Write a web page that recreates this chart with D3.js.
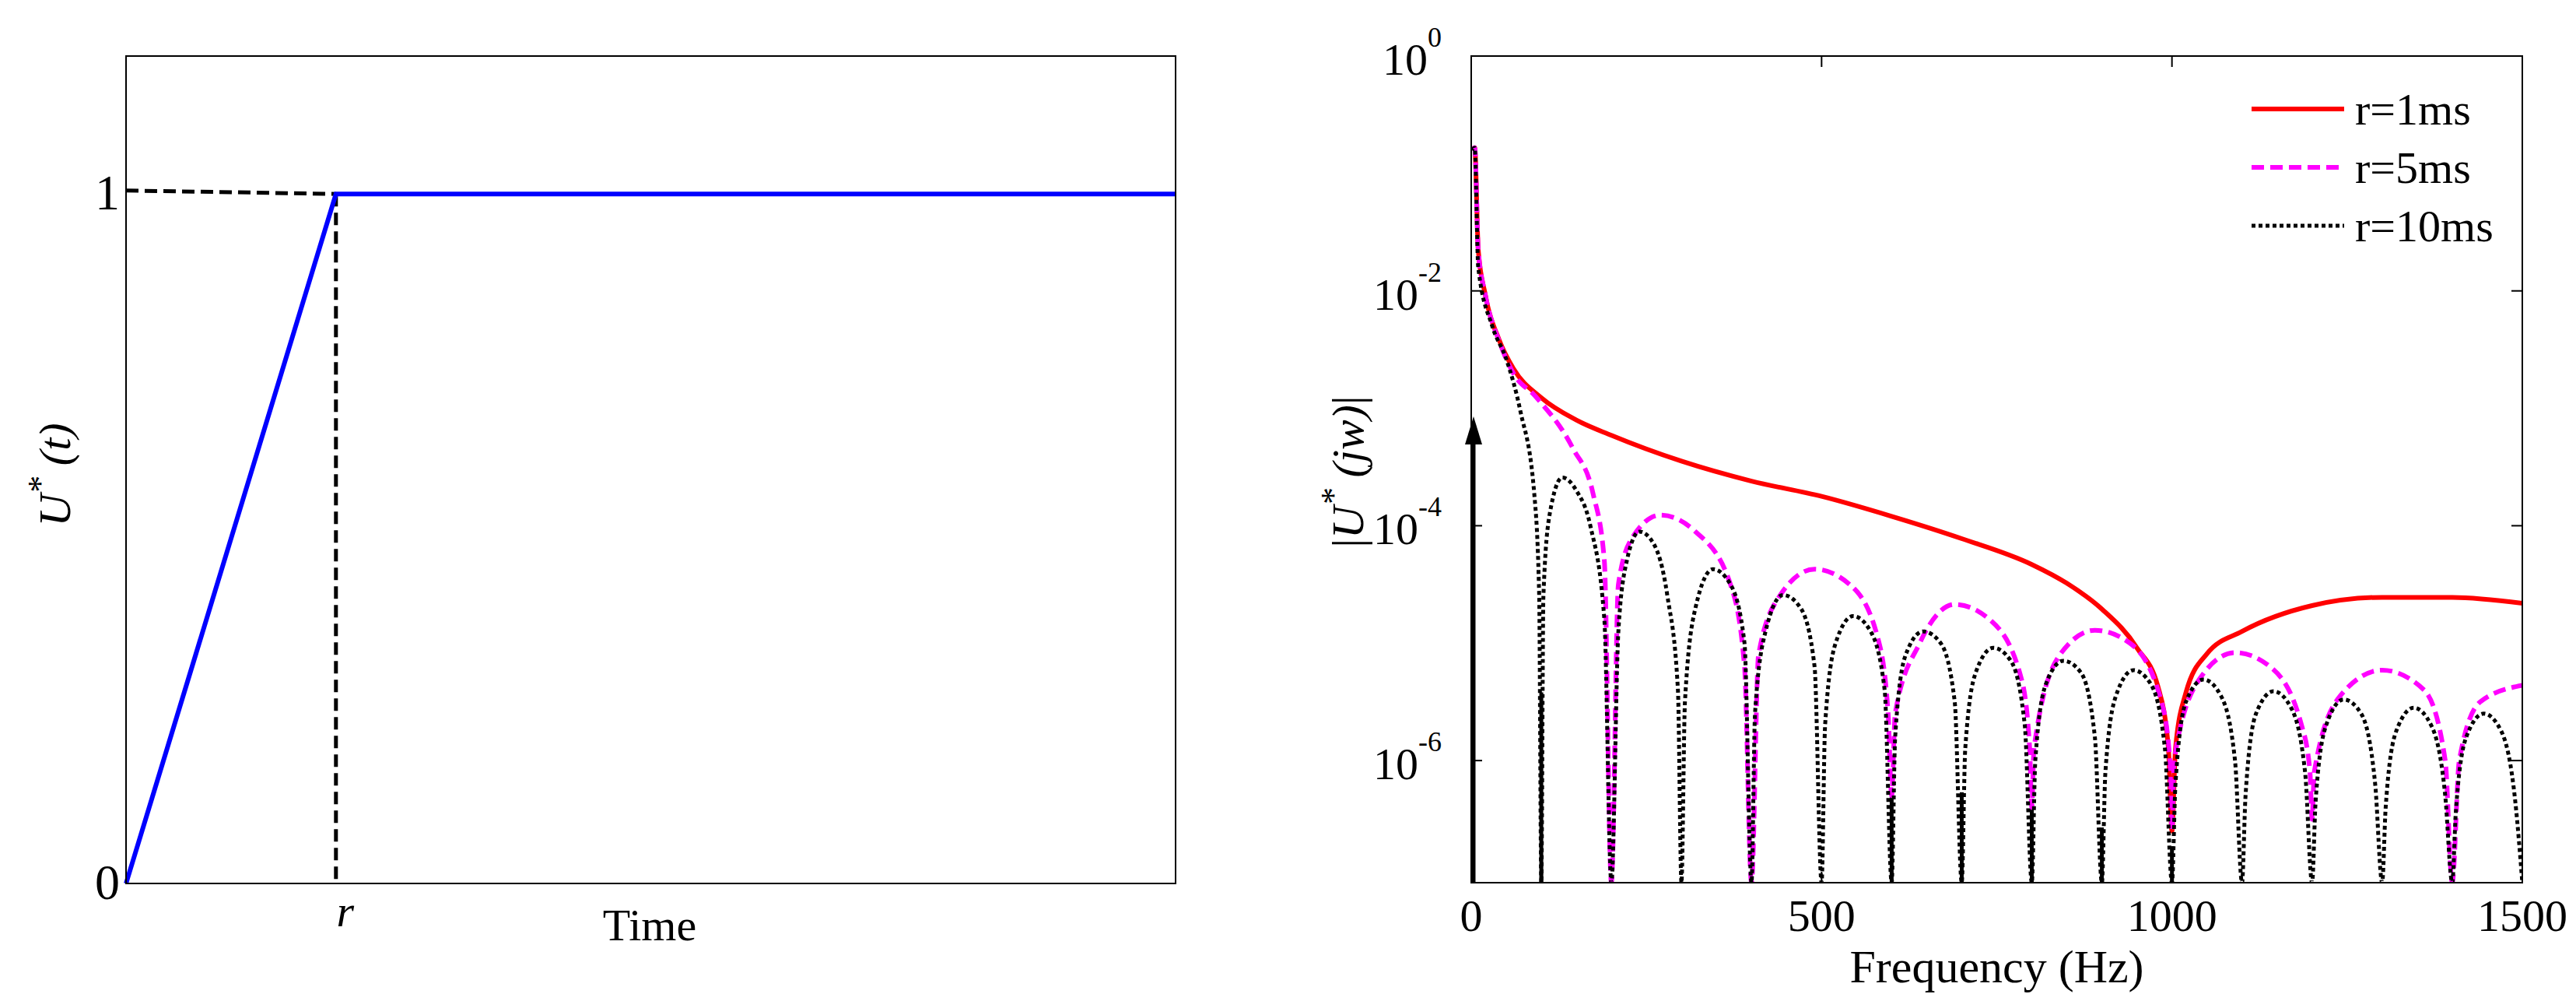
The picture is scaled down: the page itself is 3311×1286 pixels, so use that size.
<!DOCTYPE html>
<html><head><meta charset="utf-8">
<script src="https://cdn.jsdelivr.net/npm/d3@7"></script>
<style>body{margin:0;background:#fff}text{font-family:"Liberation Serif","Times New Roman",serif}</style>
</head><body><div id="chart"></div>
<script>
// left panel: ramp input
const rampT = [0, 0.2, 1];
const rampU = [0, 1, 1];
const rVal = 0.2;

// right panel: log10 |U*(jw)|
const redF = [1, 5, 10, 20, 40, 60, 100, 150, 200, 300, 400, 500, 600, 700, 800, 850, 900, 950, 980, 995, 1000, 1005, 1020, 1050, 1100, 1200, 1300, 1400, 1500];
const redE = [-0.8, -0.78, -1.65, -2.03, -2.42, -2.66, -2.91, -3.10, -3.23, -3.45, -3.62, -3.75, -3.92, -4.11, -4.33, -4.49, -4.71, -5.04, -5.37, -5.9, -6.6, -5.9, -5.42, -5.09, -4.90, -4.68, -4.61, -4.61, -4.66];

const magF = [1, 5, 10, 20, 40, 60, 92, 145, 174, 190, 200, 210, 230, 270, 320, 370, 390, 400, 410, 440, 490, 540, 580, 595, 600, 605, 640, 690, 740, 785, 797, 800, 803, 840, 890, 940, 985, 997, 1000, 1003, 1040, 1090, 1140, 1185, 1197, 1200, 1203, 1240, 1300, 1360, 1390, 1400, 1410, 1440, 1500];
const magE = [-0.8, -0.78, -1.65, -2.03, -2.43, -2.70, -2.90, -3.34, -3.73, -4.3, -7.05, -4.5, -4.1, -3.91, -4.05, -4.5, -5.2, -7.05, -5.1, -4.6, -4.37, -4.5, -4.95, -5.6, -6.3, -5.6, -5.0, -4.67, -4.8, -5.3, -5.9, -6.4, -5.9, -5.1, -4.89, -5.0, -5.5, -6.0, -6.6, -6.0, -5.3, -5.08, -5.2, -5.7, -6.1, -6.5, -6.1, -5.45, -5.23, -5.4, -6.0, -7.05, -6.0, -5.5, -5.36];

const blkF = [1, 5, 10, 30, 50, 70, 90, 97, 100, 103, 112, 130, 150, 170, 190, 200, 210, 222, 240, 260, 280, 295, 300, 305, 320, 345, 370, 390, 400, 405, 420, 445, 470, 490, 500, 505, 520, 545, 570, 590, 600, 605, 620, 645, 670, 690, 700, 705, 720, 745, 770, 790, 800, 805, 820, 845, 870, 890, 900, 905, 920, 945, 970, 990, 1000, 1005, 1020, 1045, 1070, 1090, 1100, 1105, 1120, 1145, 1170, 1190, 1200, 1205, 1220, 1245, 1270, 1290, 1300, 1305, 1320, 1345, 1370, 1390, 1400, 1405, 1420, 1445, 1470, 1490, 1500];
const blkE = [-0.8, -0.78, -1.8, -2.3, -2.58, -3.02, -3.73, -4.6, -7.05, -4.6, -3.9, -3.59, -3.7, -4.0, -4.8, -7.05, -4.9, -4.3, -4.05, -4.15, -4.6, -5.4, -7.05, -5.5, -4.7, -4.37, -4.5, -5.0, -7.05, -5.6, -4.9, -4.59, -4.7, -5.2, -7.05, -5.7, -5.0, -4.77, -4.9, -5.4, -7.05, -5.8, -5.1, -4.90, -5.0, -5.5, -7.05, -5.9, -5.25, -5.04, -5.15, -5.7, -7.05, -6.0, -5.35, -5.15, -5.25, -5.8, -7.05, -6.1, -5.45, -5.23, -5.35, -5.9, -7.05, -6.2, -5.5, -5.31, -5.45, -6.0, -7.05, -6.3, -5.6, -5.41, -5.55, -6.1, -7.05, -6.35, -5.7, -5.48, -5.6, -6.2, -7.05, -6.4, -5.75, -5.55, -5.7, -6.3, -7.05, -6.45, -5.8, -5.60, -5.75, -6.35, -7.05];

// solid spikes at the nulls (top exponent)
const spikeF = [100, 600, 700, 800, 900, 1000];
const spikeE = [-5.42, -6.24, -6.27, -6.35, -6.57, -6.73];
const arrowTopE = -3.07;

const freqTicks = [0, 500, 1000, 1500];
const decadeTicks = [0, -2, -4, -6];
const legendLabels = ["r=1ms", "r=5ms", "r=10ms"];

const W = 3311, H = 1286;
const svg = d3.select("#chart").append("svg").attr("width", W).attr("height", H);
const fs = 58;

// ---------- left panel ----------
const L = {l: 162, r: 1511, t: 72, b: 1135};
const xL = d3.scaleLinear().domain([0, 1]).range([L.l, L.r]);
const yL = d3.scaleLinear().domain([0, 1.2]).range([L.b, L.t]);
const gl = svg.append("g");

gl.append("line").attr("x1", xL(0)).attr("x2", xL(rVal)).attr("y1", yL(1.005)).attr("y2", yL(1))
  .attr("stroke", "#000").attr("stroke-width", 5).attr("stroke-dasharray", "16,8");
gl.append("line").attr("x1", xL(rVal)).attr("x2", xL(rVal)).attr("y1", yL(1)).attr("y2", yL(0))
  .attr("stroke", "#000").attr("stroke-width", 5).attr("stroke-dasharray", "16,8");
gl.append("path").datum(rampT.map((t, i) => [t, rampU[i]]))
  .attr("d", d3.line().x(d => xL(d[0])).y(d => yL(d[1])))
  .attr("fill", "none").attr("stroke", "#0000ff").attr("stroke-width", 6);

gl.append("rect").attr("x", L.l).attr("y", L.t).attr("width", L.r - L.l).attr("height", L.b - L.t)
  .attr("fill", "none").attr("stroke", "#000").attr("stroke-width", 2);
[0, 1].forEach(v => {
  gl.append("text").attr("x", L.l - 8).attr("y", yL(v) + 20).attr("text-anchor", "end")
    .attr("font-size", fs + 6).text(v);
});
gl.append("text").attr("x", xL(rVal) + 12).attr("y", 1190).attr("text-anchor", "middle")
  .attr("font-size", fs).attr("font-style", "italic").text("r");
gl.append("text").attr("x", 835).attr("y", 1208).attr("text-anchor", "middle")
  .attr("font-size", fs).text("Time");
const ylab = gl.append("text").attr("transform", "translate(90,610) rotate(-90)")
  .attr("text-anchor", "middle").attr("font-size", fs).attr("font-style", "italic");
ylab.append("tspan").text("U");
ylab.append("tspan").attr("dy", -24).attr("font-size", 44).text("*");
ylab.append("tspan").attr("dy", 24).text(" (t)");

// ---------- right panel ----------
const R = {l: 1891, r: 3242, t: 72, b: 1134};
const xR = d3.scaleLinear().domain([0, 1500]).range([R.l, R.r]);
const yR = d3.scaleLog().domain([Math.pow(10, -7.04), 1]).range([R.b, R.t]).clamp(true);
const gr = svg.append("g");
gr.append("clipPath").attr("id", "cr").append("rect")
  .attr("x", R.l).attr("y", R.t).attr("width", R.r - R.l).attr("height", R.b - R.t);
const plot = gr.append("g").attr("clip-path", "url(#cr)");
const line = d3.line().x(d => xR(d[0])).y(d => yR(Math.pow(10, d[1]))).curve(d3.curveMonotoneX);
const zip = (f, e) => f.map((v, i) => [v, e[i]]);

plot.selectAll("line.spike").data(zip(spikeF, spikeE)).enter().append("line")
  .attr("x1", d => xR(d[0])).attr("x2", d => xR(d[0]))
  .attr("y1", d => yR(Math.pow(10, d[1]))).attr("y2", R.b)
  .attr("stroke", "#000").attr("stroke-width", 5);

plot.append("path").datum(zip(redF, redE)).attr("d", line)
  .attr("fill", "none").attr("stroke", "#ff0000").attr("stroke-width", 6);
plot.append("path").datum(zip(magF, magE)).attr("d", line)
  .attr("fill", "none").attr("stroke", "#ff00ff").attr("stroke-width", 6).attr("stroke-dasharray", "16,8");
plot.append("path").datum(zip(blkF, blkE)).attr("d", line)
  .attr("fill", "none").attr("stroke", "#000").attr("stroke-width", 5).attr("stroke-dasharray", "5,4");

// arrow at 0 Hz
const ay = yR(Math.pow(10, arrowTopE));
gr.append("line").attr("x1", xR(0) + 3).attr("x2", xR(0) + 3).attr("y1", R.b).attr("y2", ay + 20)
  .attr("stroke", "#000").attr("stroke-width", 5);
gr.append("path").attr("d", `M${xR(0) + 3},${ay} l-11,36 l22,0 z`).attr("fill", "#000");

gr.append("rect").attr("x", R.l).attr("y", R.t).attr("width", R.r - R.l).attr("height", R.b - R.t)
  .attr("fill", "none").attr("stroke", "#000").attr("stroke-width", 2);
freqTicks.forEach(f => {
  [[R.b, -14], [R.t, 14]].forEach(([y0, d]) => gr.append("line").attr("x1", xR(f)).attr("x2", xR(f))
    .attr("y1", y0).attr("y2", y0 + d).attr("stroke", "#000").attr("stroke-width", 2));
  gr.append("text").attr("x", xR(f)).attr("y", 1196).attr("text-anchor", "middle").attr("font-size", fs).text(f);
});
decadeTicks.forEach(k => {
  const y = yR(Math.pow(10, k));
  [[R.l, 14], [R.r, -14]].forEach(([x0, d]) => gr.append("line").attr("x1", x0).attr("x2", x0 + d)
    .attr("y1", y).attr("y2", y).attr("stroke", "#000").attr("stroke-width", 2));
  const t = gr.append("text").attr("x", 1853).attr("y", y + 24).attr("text-anchor", "end").attr("font-size", fs);
  t.append("tspan").text("10");
  t.append("tspan").attr("dy", -36).attr("font-size", 36).text(k);
});
gr.append("text").attr("x", xR(750)).attr("y", 1262).attr("text-anchor", "middle").attr("font-size", fs + 2).text("Frequency (Hz)");
const yl2 = gr.append("text").attr("transform", "translate(1752,606) rotate(-90)")
  .attr("text-anchor", "middle").attr("font-size", fs).attr("font-style", "italic");
yl2.append("tspan").attr("font-style", "normal").text("|");
yl2.append("tspan").text("U");
yl2.append("tspan").attr("dy", -24).attr("font-size", 44).text("*");
yl2.append("tspan").attr("dy", 24).text(" (jw)");
yl2.append("tspan").attr("font-style", "normal").text("|");

// legend
const legStyles = [["#ff0000", null, 6], ["#ff00ff", "16,8", 6], ["#000", "5,4", 5]];
legendLabels.forEach((lab, i) => {
  const y = 140 + i * 75;
  gr.append("line").attr("x1", 2894).attr("x2", 3013).attr("y1", y).attr("y2", y)
    .attr("stroke", legStyles[i][0]).attr("stroke-width", legStyles[i][2]).attr("stroke-dasharray", legStyles[i][1]);
  gr.append("text").attr("x", 3027).attr("y", y + 20).attr("font-size", fs).text(lab);
});
</script></body></html>
